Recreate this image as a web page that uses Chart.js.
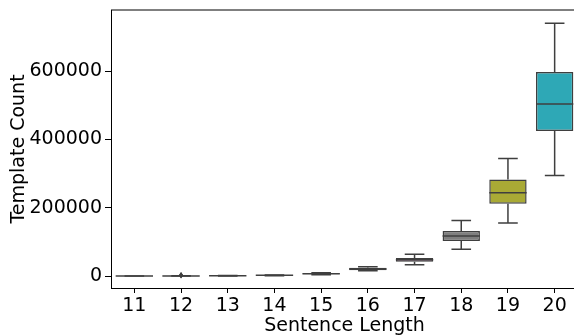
<!DOCTYPE html>
<html>
<head>
<meta charset="utf-8">
<script src="https://cdn.jsdelivr.net/npm/chart.js@4/dist/chart.umd.min.js"></script>
<style>
  html, body { margin: 0; padding: 0; overflow: hidden; background: #fff; }
  #wrap { width: 578px; height: 336px; }
</style>
</head>
<body>
<div id="wrap"><canvas id="chart" width="578" height="336"></canvas></div>
<script>
// sentence length categories
const categories = ['11', '12', '13', '14', '15', '16', '17', '18', '19', '20'];

// box plot statistics
const whiskerLow  = [0,   0,   300,  1200, 4000,  15600, 33400, 78100,  155100, 294700];
const q1          = [100, 200, 600,  1800, 5500,  17000, 42100, 102400, 211900, 424400];
const median      = [200, 400, 800,  2200, 6800,  20500, 48000, 117100, 244100, 503400];
const q3          = [300, 700, 1000, 2600, 8000,  24600, 52700, 131700, 283000, 597100];
const whiskerHigh = [500, 1200, 1400, 3200, 10000, 27500, 63500, 163000, 344500, 740500];

// outliers (only sentence length 12 shows any)
const outlierCat = [1, 1, 1];
const outlierVal = [1800, 2600, 3400];

const yTicks = [0, 200000, 400000, 600000];

const boxColors = ['#3274a1', '#e1812c', '#3a923a', '#c03d3e', '#9372b2',
                   '#845b53', '#d684bd', '#7f7f7f', '#a9aa35', '#2ea8b6'];
const lineGray = '#3f3f3f';

const boxParts = {
    id: 'boxParts',
    beforeDatasetsDraw(chart) {
        const ctx = chart.ctx;
        const x = chart.scales.x, y = chart.scales.y;
        const step = x.getPixelForValue(1) - x.getPixelForValue(0);
        ctx.save();
        ctx.strokeStyle = lineGray;
        ctx.lineWidth = 1.5;
        for (let i = 0; i < categories.length; i++) {
            const cx = x.getPixelForValue(i);
            const cap = step * 0.21;
            ctx.beginPath();
            ctx.moveTo(cx, y.getPixelForValue(whiskerLow[i]));
            ctx.lineTo(cx, y.getPixelForValue(q1[i]));
            ctx.moveTo(cx, y.getPixelForValue(q3[i]));
            ctx.lineTo(cx, y.getPixelForValue(whiskerHigh[i]));
            ctx.moveTo(cx - cap, y.getPixelForValue(whiskerLow[i]));
            ctx.lineTo(cx + cap, y.getPixelForValue(whiskerLow[i]));
            ctx.moveTo(cx - cap, y.getPixelForValue(whiskerHigh[i]));
            ctx.lineTo(cx + cap, y.getPixelForValue(whiskerHigh[i]));
            ctx.stroke();
        }
        ctx.restore();
    },
    afterDatasetsDraw(chart) {
        const ctx = chart.ctx;
        const x = chart.scales.x, y = chart.scales.y;
        const meta = chart.getDatasetMeta(0);
        ctx.save();
        ctx.strokeStyle = lineGray;
        ctx.lineWidth = 1.5;
        for (let i = 0; i < categories.length; i++) {
            const cx = x.getPixelForValue(i);
            const hw = meta.data[i].width / 2;
            const my = y.getPixelForValue(median[i]);
            ctx.beginPath();
            ctx.moveTo(cx - hw, my);
            ctx.lineTo(cx + hw, my);
            ctx.stroke();
        }
        // outlier diamonds
        ctx.fillStyle = lineGray;
        for (let k = 0; k < outlierVal.length; k++) {
            const px = x.getPixelForValue(outlierCat[k]);
            const py = y.getPixelForValue(outlierVal[k]);
            ctx.beginPath();
            ctx.moveTo(px, py - 3);
            ctx.lineTo(px + 2, py);
            ctx.lineTo(px, py + 3);
            ctx.lineTo(px - 2, py);
            ctx.closePath();
            ctx.fill();
        }
        // top spine
        const a = chart.chartArea;
        ctx.strokeStyle = '#000';
        ctx.lineWidth = 1;
        ctx.beginPath();
        ctx.moveTo(a.left, Math.round(a.top));
        ctx.lineTo(a.right, Math.round(a.top));
        ctx.stroke();
        ctx.restore();
    }
};

const font = { family: 'DejaVu Sans', size: 19 };

new Chart(document.getElementById('chart'), {
    type: 'bar',
    data: {
        labels: categories,
        datasets: [{
            data: categories.map((c, i) => [q1[i], q3[i]]),
            backgroundColor: boxColors,
            borderColor: lineGray,
            borderWidth: 1.5,
            borderSkipped: false,
            categoryPercentage: 1,
            barPercentage: 0.8
        }]
    },
    options: {
        responsive: false,
        animation: false,
        layout: { padding: { top: 10, right: 0, bottom: 0, left: 0 } },
        plugins: { legend: { display: false }, tooltip: { enabled: false } },
        scales: {
            x: {
                grid: { display: true, drawOnChartArea: false, drawTicks: true, tickLength: 5, offset: false, color: '#000' },
                border: { display: true, color: '#000', width: 1 },
                ticks: { color: '#000', font: font, padding: 2, maxRotation: 0 },
                title: { display: true, text: 'Sentence Length', color: '#000', font: font, padding: { top: 0, bottom: -1 } },
                afterFit(scale) {
                    scale.height = 48;
                    scale.paddingLeft = 0;
                    scale.paddingRight = 0;
                }
            },
            y: {
                min: -35000,
                max: 779000,
                afterBuildTicks(scale) { scale.ticks = yTicks.map(v => ({ value: v })); },
                grid: { display: true, drawOnChartArea: false, drawTicks: true, tickLength: 6, color: '#000' },
                border: { display: true, color: '#000', width: 1 },
                ticks: { color: '#000', font: font, padding: 3, callback: v => String(v) },
                title: { display: true, text: 'Template Count', color: '#000', font: font, padding: { top: 8, bottom: 0 } },
                afterFit(scale) {
                    scale.width = 111;
                    scale.paddingTop = 0;
                    scale.paddingBottom = 0;
                }
            }
        }
    },
    plugins: [boxParts]
});
</script>
</body>
</html>
